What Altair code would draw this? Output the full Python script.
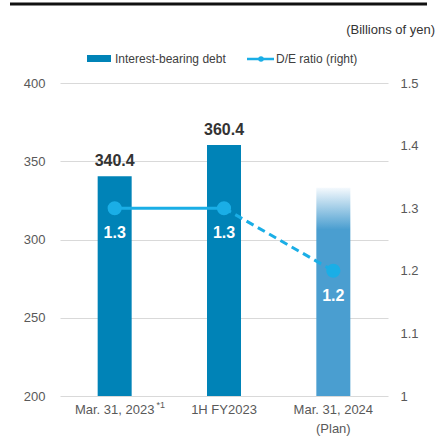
import altair as alt
import pandas as pd

categories = ["Mar. 31, 2023", "1H FY2023", "Mar. 31, 2024\n(Plan)"]
debt = [340.4, 360.4, 333.0]
debt_labels = ["340.4", "360.4", ""]
is_plan = [False, False, True]
de_ratio = [1.3, 1.3, 1.2]
ratio_labels = ["1.3", "1.3", "1.2"]

FONT = "Liberation Sans"
BAR = "#0083b7"
LINE = "#1aaee6"

df = pd.DataFrame({"cat": categories, "debt": debt, "dlabel": debt_labels,
                   "plan": is_plan, "ratio": de_ratio, "rlabel": ratio_labels})
solid_df = df.iloc[:2]
dash_df = df.iloc[1:]

x_enc = alt.X("cat:N", sort=categories,
              scale=alt.Scale(paddingInner=0, paddingOuter=0),
              axis=alt.Axis(title=None, labelAngle=0, domain=False, ticks=False,
                            labelFontSize=13, labelColor="#595959", labelFont=FONT,
                            labelPadding=7, labelLineHeight=19,
                            labelExpr="split(datum.label, '\\n')"))

y_left = alt.Y("debt:Q", scale=alt.Scale(domain=[200, 400], nice=False, zero=False),
               axis=alt.Axis(title=None, values=[200, 250, 300, 350, 400], domain=False,
                             ticks=False, grid=True, gridColor="#d9d9d9",
                             labelFontSize=13, labelColor="#595959", labelFont=FONT,
                             labelPadding=15))
y_right = alt.Y("ratio:Q", scale=alt.Scale(domain=[1.0, 1.5], nice=False, zero=False),
                axis=alt.Axis(title=None, values=[1.0, 1.1, 1.2, 1.3, 1.4, 1.5],
                              format=".1~f", domain=False, ticks=False, grid=False,
                              labelFontSize=13, labelColor="#595959", labelFont=FONT,
                              labelPadding=12))

base = alt.Chart(df)

bars = base.transform_filter("!datum.plan").mark_bar(size=34, color=BAR).encode(
    x=x_enc, y=y_left, y2=alt.datum(200))
plan_bar = base.transform_filter("datum.plan").mark_bar(
    size=34,
    color=alt.Gradient(gradient="linear", x1=0, y1=0, x2=0, y2=1,
                       stops=[alt.GradientStop(offset=0, color="#f4f9fd"),
                              alt.GradientStop(offset=0.2, color="#4a9ed0"),
                              alt.GradientStop(offset=1, color="#4a9ed0")])
).encode(x=x_enc, y=y_left, y2=alt.datum(200))
bar_text = base.mark_text(fontSize=16, fontWeight="bold", color="#333333", font=FONT,
                          baseline="middle", dy=-15).encode(x=x_enc, y=y_left, text="dlabel:N")

legend_rect = alt.Chart(pd.DataFrame({"a": [0]})).mark_rect(color=BAR).encode(
    x=alt.value(27), x2=alt.value(51), y=alt.value(-28), y2=alt.value(-21))
legend_text1 = alt.Chart(pd.DataFrame({"a": [0]})).mark_text(
    align="left", baseline="middle", fontSize=12, color="#404040", font=FONT).encode(
    x=alt.value(55), y=alt.value(-24), text=alt.value("Interest-bearing debt"))
legend_line = alt.Chart(pd.DataFrame({"a": [0]})).mark_rule(color=LINE, strokeWidth=2.5).encode(
    x=alt.value(187), x2=alt.value(214), y=alt.value(-24))
legend_dot = alt.Chart(pd.DataFrame({"a": [0]})).mark_point(
    filled=True, color=LINE, size=30, opacity=1).encode(x=alt.value(201), y=alt.value(-24))
legend_text2 = alt.Chart(pd.DataFrame({"a": [0]})).mark_text(
    align="left", baseline="middle", fontSize=12, color="#404040", font=FONT).encode(
    x=alt.value(216), y=alt.value(-24), text=alt.value("D/E ratio (right)"))
unit_text = alt.Chart(pd.DataFrame({"a": [0]})).mark_text(
    align="right", baseline="middle", fontSize=13, color="#333333", font=FONT).encode(
    x=alt.value(375), y=alt.value(-53), text=alt.value("(Billions of yen)"))
top_line = alt.Chart(pd.DataFrame({"a": [0]})).mark_rule(color="#111111", strokeWidth=3).encode(
    x=alt.value(-50), x2=alt.value(367), y=alt.value(-79))
note = alt.Chart(pd.DataFrame({"cat": [categories[0]]})).mark_text(
    fontSize=9, color="#595959", font=FONT, dx=46, baseline="middle").encode(
    x=alt.X("cat:N", sort=categories), y=alt.value(322), text=alt.value("*1"))

left = alt.layer(bars, plan_bar, bar_text, legend_rect, legend_text1, legend_line,
                 legend_dot, legend_text2, unit_text, top_line, note)

solid = alt.Chart(solid_df).mark_line(color=LINE, strokeWidth=3).encode(x=x_enc, y=y_right)
dashed = alt.Chart(dash_df).mark_line(color=LINE, strokeWidth=3, strokeDash=[8, 5]).encode(
    x=x_enc, y=y_right)
points = base.mark_circle(color=LINE, size=200, opacity=1).encode(x=x_enc, y=y_right)
ratio_text = base.mark_text(fontSize=16, fontWeight="bold", color="white", font=FONT,
                            baseline="middle", dy=25).encode(x=x_enc, y=y_right, text="rlabel:N")
right = alt.layer(solid, dashed, points, ratio_text)

chart = alt.layer(left, right).resolve_scale(y="independent").properties(
    width=328, height=313,
    padding={"left": 60, "top": 83, "right": 54, "bottom": 40},
    autosize=alt.AutoSizeParams(type="none"),
    background="white",
).configure_view(stroke=None)

chart.save("out.html", embed_options={"renderer": "svg", "actions": False})
